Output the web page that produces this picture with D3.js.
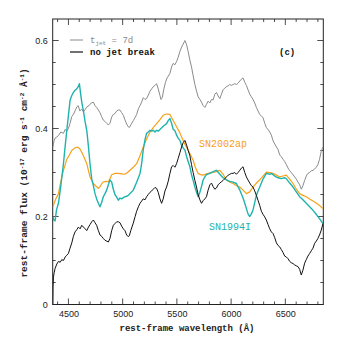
<!DOCTYPE html>
<html>
<head>
<meta charset="utf-8">
<script src="https://cdn.jsdelivr.net/npm/d3@7"></script>
<style>
  body { margin: 0; background: #fff; }
  svg { display: block; }
  .lbl { font-family: "Liberation Mono", "DejaVu Sans Mono", monospace; }
  .tick text { font-family: "Liberation Sans", Arial, sans-serif; font-size: 9px; fill: #222; }
</style>
</head>
<body>
<script>
// wavelength (Å) / flux (1e-17 erg s^-1 cm^-2 Å^-1)
const jet7d = [
  [4356, 0.358], [4368, 0.372], [4377, 0.378], [4393, 0.381], [4408, 0.384], [4430, 0.392],
  [4454, 0.389], [4470, 0.398], [4485, 0.394], [4500, 0.400], [4515, 0.412], [4531, 0.427],
  [4546, 0.432], [4561, 0.440], [4577, 0.449], [4590, 0.452], [4605, 0.440], [4623, 0.444],
  [4638, 0.438], [4654, 0.443], [4669, 0.449], [4690, 0.452], [4710, 0.458], [4730, 0.460],
  [4745, 0.452], [4760, 0.448], [4776, 0.442], [4791, 0.436], [4806, 0.427], [4822, 0.419],
  [4837, 0.416], [4853, 0.412], [4868, 0.408], [4883, 0.412], [4899, 0.426], [4914, 0.432],
  [4929, 0.434], [4945, 0.440], [4960, 0.442], [4975, 0.442], [4991, 0.436], [5006, 0.430],
  [5021, 0.420], [5037, 0.410], [5052, 0.404], [5061, 0.402], [5075, 0.408], [5098, 0.418],
  [5115, 0.425], [5129, 0.432], [5145, 0.445], [5160, 0.452], [5175, 0.460], [5190, 0.470],
  [5206, 0.466], [5221, 0.468], [5236, 0.476], [5252, 0.485], [5267, 0.490], [5282, 0.495],
  [5298, 0.498], [5313, 0.502], [5328, 0.490], [5344, 0.475], [5353, 0.466], [5365, 0.470],
  [5380, 0.490], [5395, 0.505], [5410, 0.515], [5436, 0.525], [5451, 0.540], [5466, 0.548],
  [5482, 0.545], [5497, 0.552], [5512, 0.562], [5528, 0.575], [5543, 0.585], [5558, 0.592],
  [5574, 0.600], [5590, 0.590], [5604, 0.575], [5620, 0.555], [5635, 0.540], [5650, 0.520],
  [5666, 0.500], [5681, 0.485], [5696, 0.472], [5712, 0.466], [5727, 0.460], [5742, 0.452],
  [5758, 0.448], [5773, 0.455], [5788, 0.462], [5804, 0.458], [5819, 0.466], [5834, 0.465],
  [5850, 0.478], [5865, 0.482], [5880, 0.474], [5896, 0.468], [5911, 0.478], [5926, 0.488],
  [5942, 0.492], [5957, 0.495], [5973, 0.497], [5988, 0.500], [6003, 0.498], [6018, 0.500],
  [6034, 0.502], [6049, 0.500], [6064, 0.503], [6080, 0.508], [6095, 0.512], [6110, 0.515],
  [6126, 0.505], [6141, 0.498], [6156, 0.488], [6172, 0.478], [6187, 0.472], [6202, 0.466],
  [6218, 0.458], [6233, 0.448], [6248, 0.440], [6264, 0.432], [6279, 0.428], [6294, 0.425],
  [6310, 0.412], [6325, 0.402], [6340, 0.398], [6356, 0.392], [6371, 0.385], [6387, 0.372],
  [6402, 0.365], [6418, 0.358], [6433, 0.352], [6448, 0.340], [6463, 0.336], [6479, 0.330],
  [6494, 0.325], [6509, 0.318], [6525, 0.310], [6540, 0.304], [6555, 0.300], [6571, 0.295],
  [6586, 0.290], [6601, 0.285], [6617, 0.278], [6632, 0.272], [6647, 0.262], [6662, 0.270],
  [6678, 0.282], [6693, 0.292], [6708, 0.298], [6724, 0.300], [6739, 0.304], [6755, 0.305],
  [6770, 0.308], [6785, 0.312], [6800, 0.318], [6815, 0.330], [6831, 0.348], [6847, 0.358]
];

const noBreak = [
  [4356, 0.000], [4358, 0.040], [4362, 0.062], [4368, 0.072], [4377, 0.082], [4393, 0.092],
  [4408, 0.098], [4424, 0.096], [4439, 0.102], [4454, 0.100], [4470, 0.108], [4485, 0.112],
  [4500, 0.116], [4515, 0.128], [4531, 0.140], [4546, 0.155], [4561, 0.165], [4577, 0.170],
  [4592, 0.176], [4608, 0.172], [4623, 0.180], [4638, 0.176], [4654, 0.172], [4669, 0.168],
  [4685, 0.176], [4700, 0.182], [4715, 0.188], [4730, 0.192], [4745, 0.186], [4760, 0.180],
  [4776, 0.168], [4791, 0.158], [4806, 0.155], [4822, 0.150], [4837, 0.146], [4853, 0.144],
  [4868, 0.142], [4883, 0.150], [4899, 0.168], [4914, 0.180], [4929, 0.184], [4945, 0.188],
  [4960, 0.188], [4975, 0.186], [4991, 0.178], [5006, 0.172], [5021, 0.168], [5037, 0.158],
  [5052, 0.154], [5061, 0.156], [5075, 0.168], [5098, 0.185], [5115, 0.200], [5129, 0.212],
  [5145, 0.222], [5160, 0.230], [5175, 0.235], [5190, 0.240], [5206, 0.238], [5221, 0.245],
  [5236, 0.250], [5252, 0.255], [5267, 0.258], [5282, 0.262], [5298, 0.266], [5313, 0.264],
  [5328, 0.255], [5344, 0.240], [5359, 0.230], [5374, 0.240], [5390, 0.258], [5405, 0.267],
  [5420, 0.280], [5436, 0.298], [5451, 0.313], [5466, 0.316], [5482, 0.312], [5497, 0.320],
  [5512, 0.332], [5528, 0.345], [5543, 0.358], [5558, 0.368], [5574, 0.373], [5590, 0.362],
  [5604, 0.350], [5620, 0.338], [5635, 0.318], [5650, 0.300], [5666, 0.282], [5681, 0.267],
  [5696, 0.250], [5712, 0.238], [5727, 0.230], [5742, 0.236], [5758, 0.240], [5773, 0.245],
  [5788, 0.260], [5804, 0.272], [5819, 0.276], [5834, 0.268], [5850, 0.262], [5865, 0.265],
  [5880, 0.272], [5896, 0.276], [5911, 0.279], [5926, 0.282], [5942, 0.286], [5957, 0.290],
  [5973, 0.294], [5988, 0.296], [6003, 0.298], [6018, 0.298], [6034, 0.300], [6049, 0.296],
  [6064, 0.300], [6080, 0.305], [6095, 0.310], [6110, 0.313], [6126, 0.300], [6141, 0.290],
  [6156, 0.283], [6172, 0.276], [6187, 0.270], [6202, 0.267], [6218, 0.258], [6233, 0.248],
  [6248, 0.237], [6264, 0.225], [6279, 0.212], [6294, 0.205], [6310, 0.199], [6325, 0.192],
  [6340, 0.182], [6356, 0.172], [6371, 0.165], [6387, 0.161], [6402, 0.152], [6418, 0.140],
  [6433, 0.134], [6448, 0.131], [6463, 0.125], [6479, 0.118], [6494, 0.110], [6509, 0.108],
  [6525, 0.104], [6540, 0.098], [6555, 0.095], [6571, 0.093], [6586, 0.090], [6601, 0.088],
  [6617, 0.086], [6632, 0.080], [6647, 0.067], [6662, 0.078], [6678, 0.094], [6693, 0.102],
  [6708, 0.110], [6724, 0.116], [6739, 0.122], [6755, 0.128], [6770, 0.139], [6785, 0.144],
  [6800, 0.150], [6815, 0.158], [6831, 0.169], [6847, 0.184]
];

const sn2002ap = [
  [4356, 0.222], [4380, 0.238], [4408, 0.252], [4430, 0.280], [4454, 0.305], [4485, 0.330],
  [4500, 0.336], [4530, 0.350], [4560, 0.356], [4583, 0.358], [4605, 0.354], [4623, 0.346],
  [4645, 0.334], [4669, 0.320], [4685, 0.304], [4699, 0.290], [4715, 0.282], [4730, 0.275],
  [4750, 0.270], [4776, 0.264], [4791, 0.268], [4806, 0.274], [4822, 0.279], [4845, 0.280],
  [4868, 0.279], [4883, 0.286], [4899, 0.295], [4930, 0.298], [4960, 0.298], [4990, 0.297],
  [5021, 0.296], [5045, 0.300], [5067, 0.305], [5098, 0.312], [5129, 0.320], [5160, 0.338],
  [5190, 0.358], [5221, 0.376], [5252, 0.392], [5282, 0.402], [5313, 0.411], [5344, 0.420],
  [5374, 0.430], [5405, 0.433], [5436, 0.432], [5466, 0.418], [5497, 0.404], [5528, 0.390],
  [5543, 0.381], [5574, 0.364], [5604, 0.351], [5630, 0.338], [5650, 0.328], [5670, 0.312],
  [5696, 0.298], [5720, 0.295], [5742, 0.294], [5773, 0.297], [5804, 0.299], [5834, 0.300],
  [5865, 0.302], [5896, 0.305], [5926, 0.296], [5957, 0.283], [5988, 0.278], [6018, 0.275],
  [6049, 0.270], [6080, 0.267], [6110, 0.260], [6141, 0.252], [6172, 0.256], [6202, 0.267],
  [6233, 0.276], [6264, 0.283], [6294, 0.292], [6325, 0.301], [6356, 0.300], [6387, 0.298],
  [6418, 0.294], [6448, 0.290], [6479, 0.292], [6509, 0.294], [6540, 0.285], [6571, 0.275],
  [6601, 0.262], [6632, 0.252], [6662, 0.248], [6693, 0.245], [6724, 0.240], [6770, 0.233],
  [6810, 0.226], [6847, 0.218]
];

const sn1994i = [
  [4356, 0.200], [4365, 0.192], [4377, 0.190], [4390, 0.215], [4408, 0.230], [4430, 0.270],
  [4454, 0.320], [4470, 0.360], [4485, 0.396], [4500, 0.430], [4515, 0.464], [4531, 0.475],
  [4546, 0.482], [4561, 0.487], [4577, 0.490], [4590, 0.495], [4601, 0.502], [4612, 0.480],
  [4623, 0.460], [4638, 0.440], [4654, 0.415], [4669, 0.396], [4684, 0.360], [4699, 0.320],
  [4715, 0.285], [4730, 0.270], [4745, 0.252], [4760, 0.240], [4776, 0.230], [4791, 0.222],
  [4806, 0.232], [4822, 0.245], [4837, 0.252], [4853, 0.260], [4868, 0.272], [4883, 0.283],
  [4899, 0.278], [4914, 0.262], [4929, 0.250], [4945, 0.244], [4960, 0.237], [4975, 0.242],
  [4991, 0.240], [5006, 0.243], [5021, 0.245], [5037, 0.246], [5052, 0.248], [5075, 0.254],
  [5098, 0.260], [5129, 0.278], [5160, 0.298], [5175, 0.320], [5190, 0.352], [5206, 0.375],
  [5221, 0.389], [5236, 0.392], [5252, 0.396], [5267, 0.394], [5282, 0.396], [5298, 0.392],
  [5313, 0.396], [5328, 0.394], [5344, 0.398], [5374, 0.405], [5405, 0.411], [5420, 0.418],
  [5436, 0.423], [5451, 0.412], [5466, 0.398], [5482, 0.395], [5497, 0.385], [5512, 0.378],
  [5528, 0.373], [5543, 0.362], [5558, 0.356], [5574, 0.351], [5590, 0.336], [5604, 0.325],
  [5620, 0.313], [5635, 0.295], [5650, 0.282], [5666, 0.267], [5681, 0.255], [5696, 0.245],
  [5712, 0.255], [5727, 0.268], [5742, 0.283], [5758, 0.290], [5773, 0.295], [5804, 0.298],
  [5834, 0.302], [5865, 0.305], [5896, 0.296], [5926, 0.288], [5957, 0.283], [5988, 0.280],
  [6018, 0.278], [6049, 0.275], [6080, 0.260], [6110, 0.242], [6126, 0.230], [6141, 0.218],
  [6156, 0.206], [6172, 0.200], [6187, 0.206], [6202, 0.215], [6218, 0.232], [6233, 0.248],
  [6248, 0.258], [6264, 0.267], [6294, 0.285], [6325, 0.298], [6356, 0.296], [6371, 0.298],
  [6402, 0.292], [6433, 0.288], [6463, 0.286], [6494, 0.288], [6509, 0.286], [6540, 0.276],
  [6571, 0.267], [6601, 0.256], [6632, 0.245], [6662, 0.238], [6693, 0.230], [6724, 0.222],
  [6755, 0.214], [6785, 0.205], [6815, 0.195], [6847, 0.184]
];

const xTicks = [4500, 5000, 5500, 6000, 6500];
const xTickLabels = ["4500", "5000", "5500", "6000", "6500"];
const yTicks = [0, 0.2, 0.4, 0.6];
const yTickLabels = ["0", "0.2", "0.4", "0.6"];

const width = 341, height = 341;
const margin = { left: 52.7, right: 17.7, top: 19, bottom: 36.5 };
const chartWidth = width - margin.left - margin.right;
const chartHeight = height - margin.top - margin.bottom;

const svg = d3.select("body").append("svg")
    .attr("width", width)
    .attr("height", height);

const g = svg.append("g")
    .attr("transform", "translate(" + margin.left + "," + margin.top + ")");

const xScale = d3.scaleLinear().domain([4355, 6850]).range([0, chartWidth]);
const yScale = d3.scaleLinear().domain([0, 0.6489]).range([chartHeight, 0]);

// frame
g.append("rect")
    .attr("width", chartWidth).attr("height", chartHeight)
    .attr("fill", "none").attr("stroke", "#222").attr("stroke-width", 1);

// inward ticks on all sides
const minorX = d3.range(4400, 6850, 100);
const minorY = d3.range(0, 0.65, 0.05);
const tickLen = d => (xTicks.includes(d) ? 6 : 3);
const tickLenY = d => (yTicks.some(t => Math.abs(t - d) < 1e-6) ? 6 : 3);

const ticks = g.append("g").attr("stroke", "#222").attr("stroke-width", 0.8);
minorX.forEach(d => {
  const x = xScale(d);
  ticks.append("line").attr("x1", x).attr("x2", x).attr("y1", chartHeight).attr("y2", chartHeight - tickLen(d));
  ticks.append("line").attr("x1", x).attr("x2", x).attr("y1", 0).attr("y2", tickLen(d));
});
minorY.forEach(d => {
  const y = yScale(d);
  ticks.append("line").attr("x1", 0).attr("x2", tickLenY(d)).attr("y1", y).attr("y2", y);
  ticks.append("line").attr("x1", chartWidth).attr("x2", chartWidth - tickLenY(d)).attr("y1", y).attr("y2", y);
});

// axis labels via d3 axes (tick lines hidden, drawn above)
g.append("g")
    .attr("transform", "translate(0," + chartHeight + ")")
    .call(d3.axisBottom(xScale).tickValues(xTicks).tickSize(0).tickPadding(6)
      .tickFormat((d, i) => xTickLabels[i]))
    .call(a => a.select(".domain").remove());
g.append("g")
    .call(d3.axisLeft(yScale).tickValues(yTicks).tickSize(0).tickPadding(5)
      .tickFormat((d, i) => yTickLabels[i]))
    .call(a => a.select(".domain").remove());

// curves
const line = d3.line().x(d => xScale(d[0])).y(d => yScale(d[1]));
g.append("clipPath").attr("id", "clip").append("rect")
    .attr("width", chartWidth).attr("height", chartHeight);
const curves = g.append("g").attr("clip-path", "url(#clip)").attr("fill", "none")
    .attr("stroke-linejoin", "round");
curves.append("path").datum(jet7d).attr("d", line).attr("stroke", "#8a8a8a").attr("stroke-width", 1);
curves.append("path").datum(sn2002ap).attr("d", line).attr("stroke", "#f7a11a").attr("stroke-width", 1.2);
curves.append("path").datum(sn1994i).attr("d", line).attr("stroke", "#1fb3ad").attr("stroke-width", 1.4);
curves.append("path").datum(noBreak).attr("d", line).attr("stroke", "#111").attr("stroke-width", 1);

// legend
const lg = svg.append("g").attr("class", "lbl");
lg.append("line").attr("x1", 70).attr("x2", 83).attr("y1", 40).attr("y2", 40)
    .attr("stroke", "#8a8a8a").attr("stroke-width", 1);
const t1 = lg.append("text").attr("x", 90).attr("y", 43).attr("font-size", 9).attr("fill", "#8a8a8a");
t1.append("tspan").text("t");
t1.append("tspan").attr("font-size", 6).attr("dy", 2).text("jet");
t1.append("tspan").attr("dy", -2).text(" = 7d");
lg.append("line").attr("x1", 70).attr("x2", 83).attr("y1", 52).attr("y2", 52)
    .attr("stroke", "#111").attr("stroke-width", 1.2);
lg.append("text").attr("x", 90).attr("y", 55).attr("font-size", 9).attr("font-weight", "bold")
    .attr("fill", "#111").text("no jet break");
lg.append("text").attr("x", 279).attr("y", 55).attr("font-size", 9).attr("font-weight", "bold")
    .attr("fill", "#111").text("(c)");

// series names
svg.append("text").attr("class", "lbl").attr("x", 199).attr("y", 147).attr("font-size", 10)
    .attr("fill", "#f7a11a").text("SN2002ap");
svg.append("text").attr("class", "lbl").attr("x", 209).attr("y", 230).attr("font-size", 10)
    .attr("fill", "#1fb3ad").text("SN1994I");

// axis titles
svg.append("text").attr("class", "lbl").attr("x", 187).attr("y", 331).attr("text-anchor", "middle")
    .attr("font-size", 9).attr("font-weight", "bold").attr("fill", "#222")
    .text("rest-frame wavelength (Å)");

const yl = svg.append("text").attr("class", "lbl")
    .attr("transform", "translate(27,173) rotate(-90)")
    .attr("text-anchor", "middle").attr("font-size", 9.5).attr("font-weight", "bold").attr("fill", "#222");
yl.append("tspan").text("rest-frame flux (10");
yl.append("tspan").attr("font-size", 6).attr("dy", -3).text("-17");
yl.append("tspan").attr("dy", 3).text(" erg s");
yl.append("tspan").attr("font-size", 6).attr("dy", -3).text("-1");
yl.append("tspan").attr("dy", 3).text(" cm");
yl.append("tspan").attr("font-size", 6).attr("dy", -3).text("-2");
yl.append("tspan").attr("dy", 3).text(" Å");
yl.append("tspan").attr("font-size", 6).attr("dy", -3).text("-1");
yl.append("tspan").attr("dy", 3).text(")");
</script>
</body>
</html>
